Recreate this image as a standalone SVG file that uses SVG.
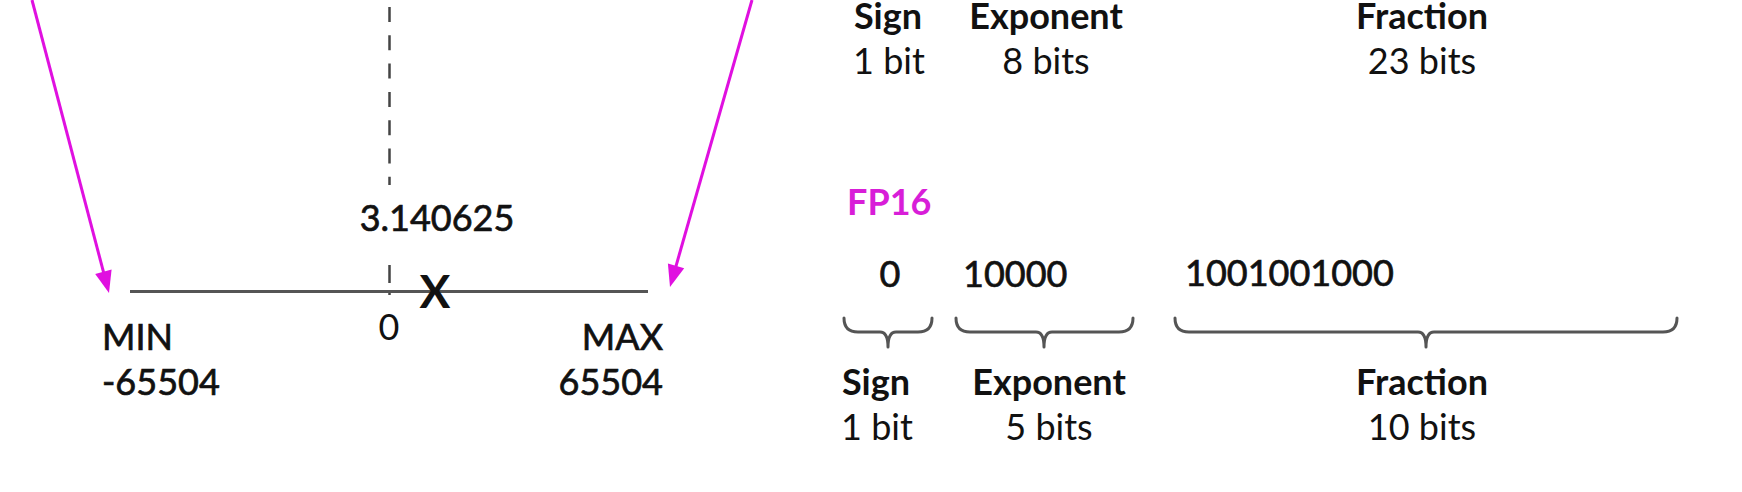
<svg xmlns="http://www.w3.org/2000/svg" width="1742" height="492" viewBox="0 0 1742 492">
<style>
text{font-family:Lato,"Liberation Sans",sans-serif;font-size:36px;fill:#111}
.b{font-weight:700}
.m{font-weight:400;stroke:#111;stroke-width:0.7}
.r{font-weight:400}
.c{text-anchor:middle}
.e{text-anchor:end}
.mag{fill:#d81ed8}
.ax{stroke:#555;stroke-width:3;fill:none}
.dash{stroke:#444;stroke-width:2.5}
.arr{stroke:#e010e0;stroke-width:3;fill:none}
.head{fill:#e010e0}
.brace{stroke:#555;stroke-width:3;fill:none;stroke-linecap:round;stroke-linejoin:round}
</style>
<rect width="1742" height="492" fill="#fff"/>
<g id="connectors">
<line class="arr" x1="32" y1="0" x2="103.9" y2="273.6"/>
<polygon class="head" points="109,293 95.2,273.9 111.6,269.6"/>
<line class="arr" x1="752" y1="0" x2="675.5" y2="267.8"/>
<polygon class="head" points="670,287 667.9,263.5 684.2,268.2"/>
</g>
<g id="number-line">
<line class="dash" x1="389.5" y1="7" x2="389.5" y2="185" stroke-dasharray="15 13.3"/>
<line class="dash" x1="389.5" y1="265" x2="389.5" y2="295" stroke-dasharray="18 7"/>
<line class="ax" x1="130" y1="291.5" x2="648" y2="291.5"/>
<text class="b c" x="435" y="308" style="font-size:46px">X</text>
<text class="m c" x="437" y="231">3.140625</text>
<text class="r c" x="389" y="340">0</text>
</g>
<g id="min">
<text class="m" x="102" y="350">MIN</text>
<text class="m" x="102" y="395">-65504</text>
</g>
<g id="max">
<text class="m e" x="663" y="350">MAX</text>
<text class="m e" x="663" y="395">65504</text>
</g>
<g id="fp32-labels">
<text class="b c" x="888" y="29">Sign</text>
<text class="r c" x="889" y="74">1 bit</text>
<text class="b c" x="1046" y="29">Exponent</text>
<text class="r c" x="1046" y="74">8 bits</text>
<text class="b c" x="1422" y="29">Fraction</text>
<text class="r c" x="1422" y="74">23 bits</text>
</g>
<g id="fp16-title">
<text class="b mag" x="847" y="215">FP16</text>
</g>
<g id="fp16-bits">
<text class="m c" x="890" y="287">0</text>
<text class="m" x="963" y="287">10000</text>
<text class="m" x="1185" y="286">1001001000</text>
</g>
<g id="braces">
<path class="brace" d="M844,318 Q844,332 858,332 L880,332 Q888,332 888,347 Q888,332 896,332 L918,332 Q932,332 932,318"/>
<path class="brace" d="M956,318 Q956,332 970,332 L1036,332 Q1044,332 1044,347 Q1044,332 1052,332 L1119,332 Q1133,332 1133,318"/>
<path class="brace" d="M1175,318 Q1175,332 1189,332 L1418,332 Q1426,332 1426,347 Q1426,332 1434,332 L1663,332 Q1677,332 1677,318"/>
</g>
<g id="fp16-labels">
<text class="b c" x="876" y="395">Sign</text>
<text class="r c" x="877" y="440">1 bit</text>
<text class="b c" x="1049" y="395">Exponent</text>
<text class="r c" x="1049" y="440">5 bits</text>
<text class="b c" x="1422" y="395">Fraction</text>
<text class="r c" x="1422" y="440">10 bits</text>
</g>
</svg>
